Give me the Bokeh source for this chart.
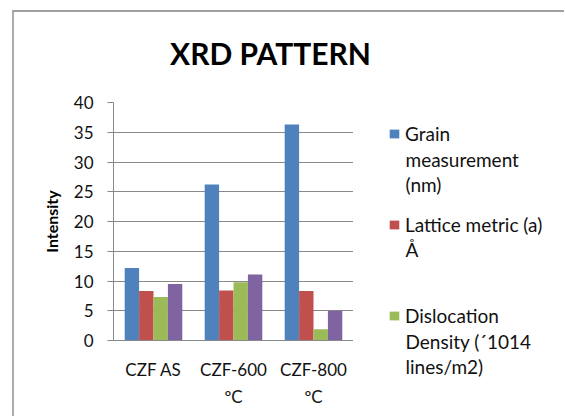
from bokeh.plotting import figure
from bokeh.layouts import row, column
from bokeh.models import (Range1d, FactorRange, FixedTicker, ColumnDataSource, Legend,
                          LegendItem, Label)
from bokeh.transform import dodge
from bokeh.embed import file_html
from bokeh.resources import INLINE

# ---- data ----
categories = ["CZF AS", "CZF-600\nºC", "CZF-800\nºC"]
grain = [12.2, 26.2, 36.3]
lattice = [8.3, 8.4, 8.3]
dislocation = [7.3, 9.8, 1.9]
fourth = [9.5, 11.1, 5.0]
series_keys = ["grain", "lattice", "dislocation", "fourth"]
legend_lines = [
    ["Grain", "measurement", "(nm)"],
    ["Lattice metric (a)", "Å"],
    ["Dislocation", "Density (´1014", "lines/m2)"],
]
colors = ["#4F81BD", "#C0504D", "#9BBB59", "#8064A2"]
y_ticks = [0, 5, 10, 15, 20, 25, 30, 35, 40]
title_text = "XRD PATTERN"
y_label = "Intensity"

FONT = "Lato"
GRAY = "#888888"
TXT = "#111111"

# page geometry (pixels from the window's top-left)
X0, Y0 = 14, 12          # inside the grey border
FRAME_L, FRAME_R = 113, 353
FRAME_T, FRAME_B = 102, 340
PAGE_R, PAGE_B = 564, 416
TITLE_H = 78             # title strip height

def blank_fig(w, h, x_range=None, y_range=None):
    f = figure(width=w, height=h,
               x_range=x_range if x_range is not None else Range1d(0, 1),
               y_range=y_range if y_range is not None else Range1d(0, 1),
               output_backend="svg", toolbar_location=None,
               x_axis_location=None, y_axis_location=None,
               min_border=0, min_border_left=0, min_border_right=0,
               min_border_top=0, min_border_bottom=0)
    f.outline_line_color = None
    f.xgrid.grid_line_color = None
    f.ygrid.grid_line_color = None
    return f

# ---- title strip ----
t = blank_fig(PAGE_R - X0, TITLE_H)
t.add_layout(Label(x=270 - X0, y=TITLE_H - (52 - Y0), x_units="screen", y_units="screen",
                   text=title_text, text_font=FONT, text_font_style="bold",
                   text_font_size="30px", text_align="center", text_baseline="middle",
                   text_color="#000000"))

# ---- main chart ----
top_y = Y0 + TITLE_H
main_h = PAGE_B - top_y
source = ColumnDataSource(dict(cat=categories, grain=grain, lattice=lattice,
                               dislocation=dislocation, fourth=fourth))
p = figure(width=FRAME_R - X0, height=main_h, x_range=FactorRange(*categories),
           y_range=Range1d(0, 40), output_backend="svg", toolbar_location=None,
           min_border_left=FRAME_L - X0, min_border_right=0,
           min_border_top=FRAME_T - top_y, min_border_bottom=PAGE_B - FRAME_B)
p.outline_line_color = None

bw = 0.18
offsets = [-1.5 * bw, -0.5 * bw, 0.5 * bw, 1.5 * bw]
for key, off, col in zip(series_keys, offsets, colors):
    p.vbar(x=dodge("cat", off, range=p.x_range), top=key, width=bw, source=source,
           fill_color=col, line_color=None)

p.xgrid.grid_line_color = None
p.ygrid.grid_line_color = GRAY
p.yaxis.ticker = FixedTicker(ticks=y_ticks)
p.ygrid.ticker = FixedTicker(ticks=y_ticks)

p.yaxis.axis_line_color = GRAY
p.yaxis.major_tick_line_color = GRAY
p.yaxis.major_tick_out = 6
p.yaxis.major_tick_in = 0
p.yaxis.minor_tick_line_color = None
p.yaxis.major_label_standoff = 14
p.yaxis.major_label_text_font = FONT
p.yaxis.major_label_text_font_size = "17px"
p.yaxis.major_label_text_color = TXT
p.yaxis.axis_label = y_label
p.yaxis.axis_label_text_font = FONT
p.yaxis.axis_label_text_font_style = "bold"
p.yaxis.axis_label_text_font_size = "16px"
p.yaxis.axis_label_text_color = "#000000"
p.yaxis.axis_label_standoff = 10

p.xaxis.axis_line_color = GRAY
p.xaxis.major_tick_line_color = None
p.xaxis.major_tick_out = 0
p.xaxis.major_tick_in = 0
p.xaxis.major_label_standoff = 18
p.xaxis.major_label_text_font = FONT
p.xaxis.major_label_text_font_size = "17px"
p.xaxis.major_label_text_line_height = 1.3
p.xaxis.major_label_text_color = TXT

# ---- legend strip (first three entries visible, as in the reference) ----
# legend renderers: the same series, drawn in a panel whose y-range hides the bars
lg_w = PAGE_R - FRAME_R
lg = blank_fig(lg_w, main_h, x_range=p.x_range, y_range=Range1d(1000, 1001))
items = []
for key, off, lines, col in zip(series_keys[:3], offsets[:3], legend_lines, colors[:3]):
    r = lg.vbar(x=dodge("cat", off, range=p.x_range), top=key, width=bw, source=source,
                fill_color=col, line_color=None)
    items.append(LegendItem(label=lines[0], renderers=[r]))

first_line_y = [133, 223, 315]
step = 25.5
item_h = 25
spacing = 66
legend_h = 3 * item_h + 2 * spacing
legend_top = first_line_y[0] - item_h / 2
legend = Legend(items=items, location=(388 - FRAME_R, PAGE_B - (legend_top + legend_h)),
                orientation="vertical", glyph_width=12, glyph_height=11,
                label_standoff=5, label_height=item_h, spacing=spacing,
                padding=0, margin=0, border_line_color=None, background_fill_alpha=0,
                label_text_font=FONT, label_text_font_size="19px", label_text_color=TXT)
lg.add_layout(legend)
for lines, y0 in zip(legend_lines, first_line_y):
    for j, line in enumerate(lines[1:], start=1):
        lg.add_layout(Label(x=405 - FRAME_R, y=PAGE_B - (y0 + j * step),
                            x_units="screen", y_units="screen", text=line,
                            text_font=FONT, text_font_size="19px", text_align="left",
                            text_baseline="middle", text_color=TXT))

layout = column(t, row(p, column(lg, spacing=0), spacing=0), spacing=0)
layout.margin = (10, 0, 0, 12)
layout.styles = {"border-left": "2px solid #ababab", "border-top": "2px solid #a0a0a0"}

open("out.html", "w").write(file_html(layout, INLINE))
